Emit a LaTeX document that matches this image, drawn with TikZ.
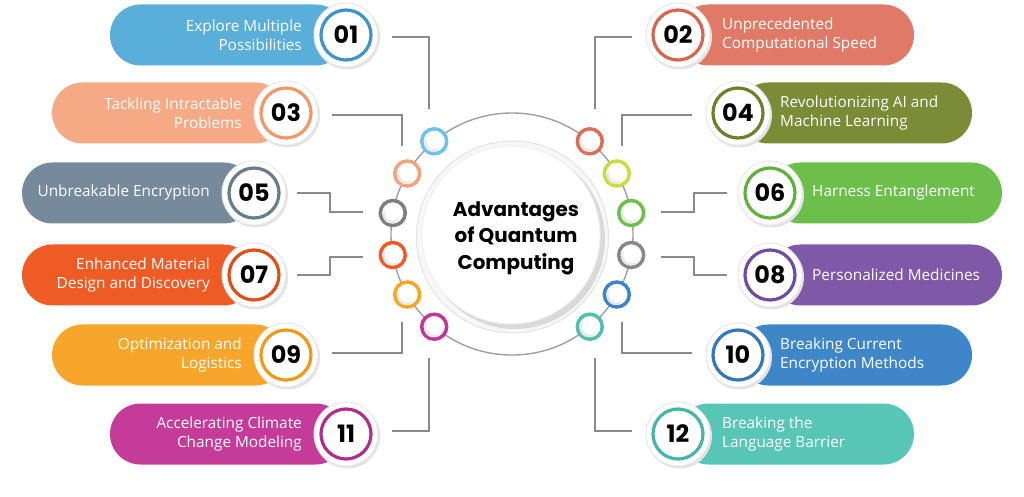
\documentclass[tikz,border=0pt]{standalone}
\usepackage{fontspec}
\setmainfont{Open Sans}
\newfontfamily\popfont{Poppins}
\usetikzlibrary{calc}
\definecolor{p01}{HTML}{5AAEDA}\definecolor{s01}{HTML}{6EC1EA}\definecolor{r01}{HTML}{3F93C8}
\definecolor{p02}{HTML}{E07A66}\definecolor{s02}{HTML}{DB6E58}\definecolor{r02}{HTML}{D8654F}
\definecolor{p03}{HTML}{F6A985}\definecolor{s03}{HTML}{F2A27E}\definecolor{r03}{HTML}{F09868}
\definecolor{p04}{HTML}{7B8B36}\definecolor{s04}{HTML}{C8DC3C}\definecolor{r04}{HTML}{6E7E2C}
\definecolor{p05}{HTML}{778A9B}\definecolor{s05}{HTML}{7D7D7D}\definecolor{r05}{HTML}{687C8E}
\definecolor{p06}{HTML}{6DBF4B}\definecolor{s06}{HTML}{6DBF4B}\definecolor{r06}{HTML}{5DB23C}
\definecolor{p07}{HTML}{EF5B25}\definecolor{s07}{HTML}{EF5B25}\definecolor{r07}{HTML}{E04E1A}
\definecolor{p08}{HTML}{8058A8}\definecolor{s08}{HTML}{888888}\definecolor{r08}{HTML}{724B9C}
\definecolor{p09}{HTML}{F7A62B}\definecolor{s09}{HTML}{F5A623}\definecolor{r09}{HTML}{EE9A18}
\definecolor{p10}{HTML}{3F86C8}\definecolor{s10}{HTML}{3C85C8}\definecolor{r10}{HTML}{3478B8}
\definecolor{p11}{HTML}{C43B9A}\definecolor{s11}{HTML}{C0379A}\definecolor{r11}{HTML}{B02E8A}
\definecolor{p12}{HTML}{58C6B6}\definecolor{s12}{HTML}{4CC1B2}\definecolor{r12}{HTML}{45B5A6}
\definecolor{conncol}{HTML}{8A8A8A}
\tikzset{
  pill/.style={rectangle, rounded corners=30.5bp, minimum height=61bp, fill=#1, inner sep=0pt, outer sep=0pt},
  halo/.style={circle, minimum size=64bp, fill=white, draw=gray!18, line width=1bp, inner sep=0pt},
  numc/.style={circle, minimum size=50bp, draw=#1, line width=3.2bp, fill=white, inner sep=0pt,
    font=\popfont\bfseries\fontsize{24}{24}\selectfont, text=black},
  smallc/.style={circle, minimum size=25bp, draw=#1, line width=3.5bp, fill=white, inner sep=0pt},
  ltxt/.style={anchor=east, align=right, text=white, font=\fontsize{15.4}{19.5}\selectfont, inner sep=0pt},
  rtxt/.style={anchor=west, align=left, text=white, font=\fontsize{15.4}{19.5}\selectfont, inner sep=0pt},
  conn/.style={draw=conncol, line width=1.8bp},
}
\begin{document}
\begin{tikzpicture}[x=1bp,y=-1bp]
\useasboundingbox (0,0) rectangle (1024,497);
\fill[white] (0,0) rectangle (1024,497);

% ---- pills (left)
\node[pill=p01, minimum width=236bp, anchor=west] (b01) at (110,35) {};
\node[pill=p03, minimum width=234bp, anchor=west] (b03) at (52,113) {};
\node[pill=p05, minimum width=232bp, anchor=west] (b05) at (22,193) {};
\node[pill=p07, minimum width=232bp, anchor=west] (b07) at (22,275) {};
\node[pill=p09, minimum width=234bp, anchor=west] (b09) at (52,355) {};
\node[pill=p11, minimum width=236bp, anchor=west] (b11) at (110,434) {};
% ---- pills (right)
\node[pill=p02, minimum width=236bp, anchor=east] (b02) at (914,35) {};
\node[pill=p04, minimum width=234bp, anchor=east] (b04) at (972,113) {};
\node[pill=p06, minimum width=232bp, anchor=east] (b06) at (1002,193) {};
\node[pill=p08, minimum width=232bp, anchor=east] (b08) at (1002,275) {};
\node[pill=p10, minimum width=234bp, anchor=east] (b10) at (972,355) {};
\node[pill=p12, minimum width=236bp, anchor=east] (b12) at (914,434) {};

% ---- texts
\node[ltxt] (t01) at (302,35) {Explore Multiple\\Possibilities};
\node[ltxt] (t03) at (242,113) {Tackling Intractable\\Problems};
\node[ltxt] (t05) at (210,193) {Unbreakable Encryption};
\node[ltxt] (t07) at (210,275) {Enhanced Material\\Design and Discovery};
\node[ltxt] (t09) at (242,355) {Optimization and\\Logistics};
\node[ltxt] (t11) at (302,434) {Accelerating Climate\\Change Modeling};
\node[rtxt] (t02) at (722,35) {Unprecedented\\Computational Speed};
\node[rtxt] (t04) at (780,113) {Revolutionizing AI and\\Machine Learning};
\node[rtxt] (t06) at (812,193) {Harness Entanglement};
\node[rtxt] (t08) at (812,275) {Personalized Medicines};
\node[rtxt] (t10) at (780,355) {Breaking Current\\Encryption Methods};
\node[rtxt] (t12) at (722,434) {Breaking the\\Language Barrier};

% ---- number badges
\foreach \n/\x/\y in {01/346/35,03/286/113,05/254/193,07/254/275,09/286/355,11/346/434,
                      02/678/35,04/738/113,06/770/193,08/770/275,10/738/355,12/678/434}{
  \fill[gray!22] (\x+1.5,\y+2) circle (32.5);
  \node[halo] (h\n) at (\x,\y) {};
  \node[numc=r\n] (n\n) at (\x,\y) {\n};
}

% ---- central hub
\node[circle, minimum size=192bp, fill=gray!6, draw=gray!22, line width=1bp] (hubo) at (512.5,237) {};
\fill[gray!30] (515,239) circle (90);
\node[circle, minimum size=178bp, fill=white, draw=gray!12, line width=1bp] (hub) at (511,235) {};
\node[font=\popfont\bfseries\fontsize{20}{26.5}\selectfont, align=center, text=black] (title) at (516,238)
  {Advantages\\of Quantum\\Computing};

% ---- orbit ring
\draw[gray!75, line width=1.4bp] (512,234) circle (121);

% ---- small rings
\node[smallc=s01] (s01) at (434.2,141.3) {};
\node[smallc=s03] (s03) at (407.2,173.5) {};
\node[smallc=s05] (s05) at (392.8,213) {};
\node[smallc=s07] (s07) at (392.8,255) {};
\node[smallc=s09] (s09) at (407.2,294.5) {};
\node[smallc=s11] (s11) at (434.2,326.7) {};
\node[smallc=s02] (s02) at (589.8,141.3) {};
\node[smallc=s04] (s04) at (616.8,173.5) {};
\node[smallc=s06] (s06) at (631.2,213) {};
\node[smallc=s08] (s08) at (631.2,255) {};
\node[smallc=s10] (s10) at (616.8,294.5) {};
\node[smallc=s12] (s12) at (589.8,326.7) {};
\foreach \n in {01,02,03,04,05,06,07,08,09,10,11,12}{
  \fill[gray!18] ([shift={(-1.5,2)}]s\n.center) circle (8.5);
  \fill[white] ([shift={(0.5,-0.5)}]s\n.center) circle (8.5);
}

% ---- connector end points
\coordinate (a01) at (392,37);  \coordinate (e01) at (429,109);
\coordinate (a03) at (332,115); \coordinate (e03) at (402,146);
\coordinate (a05) at (297,193); \coordinate (e05) at (363,212);
\coordinate (a07) at (297,275); \coordinate (e07) at (363,257);
\coordinate (a09) at (332,353); \coordinate (e09) at (402,322);
\coordinate (a11) at (392,431); \coordinate (e11) at (429,358);
\coordinate (a02) at (632,37);  \coordinate (e02) at (595,109);
\coordinate (a04) at (692,115); \coordinate (e04) at (622,146);
\coordinate (a06) at (727,193); \coordinate (e06) at (661,212);
\coordinate (a08) at (727,275); \coordinate (e08) at (661,257);
\coordinate (a10) at (692,353); \coordinate (e10) at (622,322);
\coordinate (a12) at (632,431); \coordinate (e12) at (595,358);

\foreach \n in {01,03,09,11,02,04,10,12}{\draw[conn] (a\n) -| (e\n);}
\foreach \n in {05,07,06,08}{\draw[conn] (a\n) -| ($(a\n)!0.5!(e\n)$) |- (e\n);}
\end{tikzpicture}
\end{document}
